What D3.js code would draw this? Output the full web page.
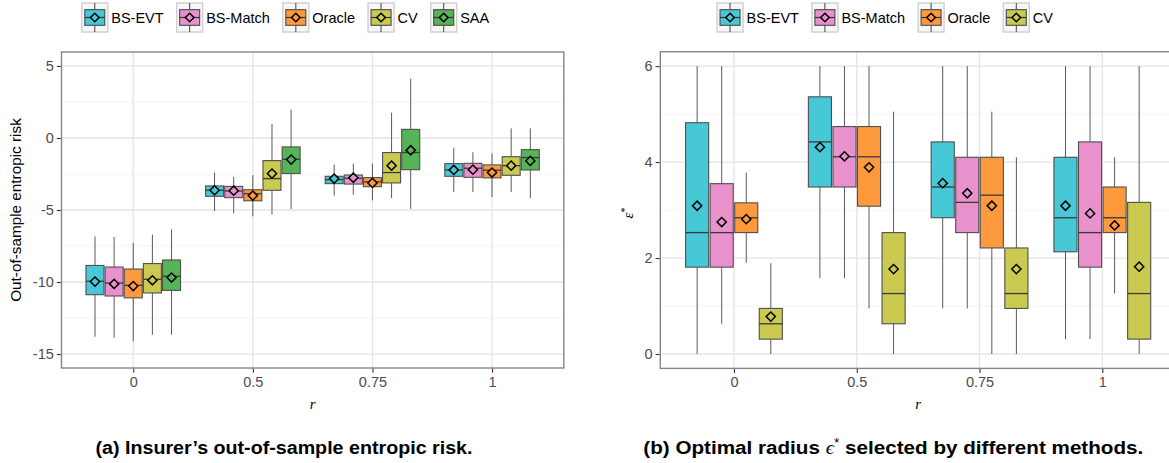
<!DOCTYPE html>
<html>
<head>
<meta charset="utf-8">
<script src="https://cdn.jsdelivr.net/npm/d3@7"></script>
<style>
  html, body { margin: 0; padding: 0; background: #fff; }
  svg { display: block; }
  text { font-family: "Liberation Sans", Arial, Helvetica, sans-serif; }
</style>
</head>
<body>
<svg id="chart" width="1169" height="463"></svg>
<script>
// ---- data -------------------------------------------------------------
const rLevels = ["0", "0.5", "0.75", "1"];

// (a) out-of-sample entropic risk; rows = method, columns = r level
const riskMethods = ["BS-EVT", "BS-Match", "Oracle", "CV", "SAA"];
const riskLower = [
  [-13.80, -5.07, -4.00, -3.75],
  [-13.87, -5.23, -3.94, -3.75],
  [-14.12, -5.44, -4.33, -4.10],
  [-13.66, -5.32, -4.17, -3.75],
  [-13.66, -4.93, -4.93, -4.19]
];
const riskQ1 = [
  [-10.88, -4.05, -3.17, -2.66],
  [-10.97, -4.14, -3.20, -2.73],
  [-11.10, -4.36, -3.38, -2.77],
  [-10.76, -3.63, -3.12, -2.59],
  [-10.58, -2.47, -2.20, -2.22]
];
const riskMedian = [
  [-9.95, -3.63, -2.89, -2.22],
  [-10.07, -3.68, -2.80, -2.10],
  [-10.23, -3.87, -3.05, -2.24],
  [-9.81, -2.82, -2.40, -1.92],
  [-9.60, -1.48, -1.01, -1.36]
];
const riskQ3 = [
  [-8.85, -3.33, -2.66, -1.78],
  [-8.96, -3.36, -2.57, -1.76],
  [-9.10, -3.59, -2.75, -1.87],
  [-8.72, -1.57, -1.01, -1.30],
  [-8.47, -0.62, 0.60, -0.81]
];
const riskUpper = [
  [-6.83, -2.40, -1.85, -0.67],
  [-6.87, -2.70, -1.78, -0.99],
  [-7.29, -2.58, -1.78, -1.08],
  [-6.71, 0.97, 1.76, 0.67],
  [-6.34, 1.97, 4.12, 0.67]
];
const riskMean = [
  [-9.97, -3.63, -2.82, -2.22],
  [-10.13, -3.66, -2.76, -2.20],
  [-10.28, -4.00, -3.12, -2.40],
  [-9.88, -2.47, -1.92, -1.92],
  [-9.69, -1.50, -0.85, -1.59]
];
const riskTicks = [-15, -10, -5, 0, 5];
const riskMinorTicks = [-12.5, -7.5, -2.5, 2.5];

// (b) selected radius eps*; rows = method, columns = r level
const radiusMethods = ["BS-EVT", "BS-Match", "Oracle", "CV"];
const radiusLower = [
  [0.00, 1.58, 0.95, 0.31],
  [0.63, 1.58, 0.95, 0.31],
  [1.90, 0.95, 0.00, 1.26],
  [0.00, 0.00, 0.00, 0.00]
];
const radiusQ1 = [
  [1.81, 3.48, 2.84, 2.13],
  [1.81, 3.48, 2.53, 1.81],
  [2.53, 3.08, 2.21, 2.53],
  [0.31, 0.63, 0.95, 0.31]
];
const radiusMedian = [
  [2.53, 4.42, 3.48, 2.84],
  [2.53, 4.11, 3.16, 2.53],
  [2.84, 4.11, 3.31, 2.84],
  [0.63, 1.26, 1.26, 1.26]
];
const radiusQ3 = [
  [4.82, 5.36, 4.42, 4.10],
  [3.55, 4.74, 4.10, 4.42],
  [3.15, 4.74, 4.10, 3.48],
  [0.95, 2.53, 2.21, 3.16]
];
const radiusUpper = [
  [6.00, 6.00, 6.00, 6.00],
  [6.00, 6.00, 6.00, 6.00],
  [3.78, 6.00, 5.05, 4.10],
  [1.89, 5.05, 4.10, 6.00]
];
const radiusMean = [
  [3.09, 4.31, 3.56, 3.09],
  [2.75, 4.12, 3.35, 2.93],
  [2.81, 3.89, 3.09, 2.68],
  [0.78, 1.77, 1.77, 1.82]
];
const radiusTicks = [0, 2, 4, 6];
const radiusMinorTicks = [1, 3, 5];

// ---- styling ----------------------------------------------------------
const palette = {
  "BS-EVT": "#46c8d6",
  "BS-Match": "#e891cc",
  "Oracle": "#ff993e",
  "CV": "#c9ca4f",
  "SAA": "#57b357"
};

const svg = d3.select("#chart");

function diamondPath(r) {
  return `M0,${-r}L${r},0L0,${r}L${-r},0Z`;
}

function drawPanel(cfg) {
  const g = svg.append("g");
  const x = d3.scalePoint().domain(rLevels).range([cfg.left, cfg.right]).padding(0.6);
  const y = d3.scaleLinear().domain(cfg.yDomain).range([cfg.bottom, cfg.top]);
  const dodge = d3.scaleBand().domain(cfg.methods)
    .range([-0.4 * x.step(), 0.4 * x.step()]).paddingInner(0);
  const boxW = dodge.bandwidth() * 0.94;

  // panel background and grid
  g.append("rect").attr("x", cfg.left).attr("y", cfg.top)
    .attr("width", cfg.right - cfg.left).attr("height", cfg.bottom - cfg.top)
    .attr("fill", "#fff");
  g.selectAll(".minor").data(cfg.minorTicks).join("line")
    .attr("x1", cfg.left).attr("x2", cfg.right)
    .attr("y1", d => y(d)).attr("y2", d => y(d))
    .attr("stroke", "#f2f2f2").attr("stroke-width", 0.7);
  g.selectAll(".majorY").data(cfg.ticks).join("line")
    .attr("x1", cfg.left).attr("x2", cfg.right)
    .attr("y1", d => y(d)).attr("y2", d => y(d))
    .attr("stroke", "#e4e4e4").attr("stroke-width", 1.3);
  g.selectAll(".majorX").data(rLevels).join("line")
    .attr("x1", d => x(d)).attr("x2", d => x(d))
    .attr("y1", cfg.top).attr("y2", cfg.bottom)
    .attr("stroke", "#e4e4e4").attr("stroke-width", 1.3);

  // boxes
  const rows = [];
  cfg.methods.forEach((m, i) => {
    rLevels.forEach((r, j) => {
      rows.push({
        method: m, r: r,
        lo: cfg.stats.lower[i][j], q1: cfg.stats.q1[i][j],
        med: cfg.stats.median[i][j], q3: cfg.stats.q3[i][j],
        hi: cfg.stats.upper[i][j], mean: cfg.stats.mean[i][j]
      });
    });
  });
  const cx = d => x(d.r) + dodge(d.method) + dodge.bandwidth() / 2;
  const boxes = g.selectAll(".box").data(rows).join("g");
  boxes.append("line")
    .attr("x1", cx).attr("x2", cx)
    .attr("y1", d => y(d.hi)).attr("y2", d => y(d.q3))
    .attr("stroke", "#5a5a5a").attr("stroke-width", 1);
  boxes.append("line")
    .attr("x1", cx).attr("x2", cx)
    .attr("y1", d => y(d.q1)).attr("y2", d => y(d.lo))
    .attr("stroke", "#5a5a5a").attr("stroke-width", 1);
  boxes.append("rect")
    .attr("x", d => cx(d) - boxW / 2).attr("width", boxW)
    .attr("y", d => y(d.q3)).attr("height", d => y(d.q1) - y(d.q3))
    .attr("fill", d => palette[d.method])
    .attr("stroke", "#4f4f4f").attr("stroke-width", 1.1);
  boxes.append("line")
    .attr("x1", d => cx(d) - boxW / 2).attr("x2", d => cx(d) + boxW / 2)
    .attr("y1", d => y(d.med)).attr("y2", d => y(d.med))
    .attr("stroke", "#3a3a3a").attr("stroke-width", 1.3);
  boxes.append("path")
    .attr("d", diamondPath(4.6))
    .attr("transform", d => `translate(${cx(d)},${y(d.mean)})`)
    .attr("fill", d => palette[d.method])
    .attr("stroke", "#000").attr("stroke-width", 1.5);

  // panel border
  g.append("rect").attr("x", cfg.left).attr("y", cfg.top)
    .attr("width", cfg.right - cfg.left).attr("height", cfg.bottom - cfg.top)
    .attr("fill", "none").attr("stroke", "#858585").attr("stroke-width", 1.4);

  // axes
  const ya = g.append("g").attr("transform", `translate(${cfg.left - 0.7},0)`)
    .call(d3.axisLeft(y).tickValues(cfg.ticks).tickFormat(d => String(d))
      .tickSize(4).tickPadding(3));
  const xa = g.append("g").attr("transform", `translate(0,${cfg.bottom + 0.7})`)
    .call(d3.axisBottom(x).tickSize(4).tickPadding(4));
  [ya, xa].forEach(a => {
    a.select(".domain").remove();
    a.selectAll(".tick line").attr("stroke", "#333").attr("stroke-width", 1.1);
    a.selectAll(".tick text").attr("fill", "#4d4d4d")
      .style("font-size", "14.5px");
  });

  // axis titles
  g.append("text").attr("x", (cfg.left + cfg.right) / 2).attr("y", 409)
    .attr("text-anchor", "middle")
    .style("font-family", "'Liberation Serif', 'DejaVu Serif', serif")
    .style("font-style", "italic").style("font-size", "15px")
    .text("r");
  cfg.yTitle(g, (cfg.top + cfg.bottom) / 2);

  // legend
  const lg = svg.append("g");
  const keyW = 26, keyH = 29, keyTop = 3;
  const items = cfg.methods.map(m => {
    const it = lg.append("g");
    const t = it.append("text").attr("x", keyW + 3.5).attr("y", keyTop + keyH / 2 + 5.2)
      .style("font-size", "14.5px").attr("fill", "#000").text(m);
    return { g: it, m: m, w: keyW + 3.5 + t.node().getComputedTextLength() };
  });
  const gap = 13;
  const total = d3.sum(items, d => d.w) + gap * (items.length - 1);
  let pos = cfg.legendCenter - total / 2;
  items.forEach(it => {
    it.g.attr("transform", `translate(${pos},0)`);
    const k = it.g.insert("g", "text");
    const mid = keyTop + keyH / 2;
    k.append("rect").attr("x", 0).attr("y", keyTop).attr("width", keyW).attr("height", keyH)
      .attr("fill", "#f7f7f7").attr("stroke", "#cfcfcf").attr("stroke-width", 1.4);
    k.append("line").attr("x1", keyW / 2).attr("x2", keyW / 2)
      .attr("y1", keyTop).attr("y2", keyTop + keyH)
      .attr("stroke", "#444").attr("stroke-width", 1);
    k.append("rect").attr("x", 3).attr("y", mid - 7.8).attr("width", keyW - 6).attr("height", 15.6)
      .attr("fill", palette[it.m]).attr("stroke", "#4a4a4a").attr("stroke-width", 1.1);
    k.append("line").attr("x1", 3).attr("x2", keyW - 3).attr("y1", mid).attr("y2", mid)
      .attr("stroke", "#333").attr("stroke-width", 1.2);
    k.append("path").attr("d", diamondPath(4.3))
      .attr("transform", `translate(${keyW / 2},${mid})`)
      .attr("fill", palette[it.m]).attr("stroke", "#000").attr("stroke-width", 1.5);
    pos += it.w + gap;
  });
}

// (a) entropic risk
drawPanel({
  left: 61.5, right: 563.8, top: 52, bottom: 368,
  yDomain: [-15.97, 5.97], ticks: riskTicks, minorTicks: riskMinorTicks,
  methods: riskMethods,
  stats: { lower: riskLower, q1: riskQ1, median: riskMedian, q3: riskQ3, upper: riskUpper, mean: riskMean },
  legendCenter: 285.5,
  yTitle: (g, cy) => {
    g.append("text").attr("transform", `translate(20.5,${cy}) rotate(-90)`)
      .attr("text-anchor", "middle").style("font-size", "15.3px").attr("fill", "#000")
      .text("Out-of-sample entropic risk");
  }
});

// (b) selected radius
drawPanel({
  left: 660.3, right: 1176, top: 51.7, bottom: 368.4,
  yDomain: [-0.3, 6.3], ticks: radiusTicks, minorTicks: radiusMinorTicks,
  methods: radiusMethods,
  stats: { lower: radiusLower, q1: radiusQ1, median: radiusMedian, q3: radiusQ3, upper: radiusUpper, mean: radiusMean },
  legendCenter: 885,
  yTitle: (g, cy) => {
    const t = g.append("text").attr("transform", `translate(633,${cy + 3}) rotate(-90)`)
      .attr("text-anchor", "middle")
      .style("font-family", "'Liberation Serif', 'DejaVu Serif', serif")
      .style("font-size", "15px").attr("fill", "#000");
    t.append("tspan").style("font-style", "italic").text("\u03b5");
    t.append("tspan").attr("dy", -5).style("font-size", "10px").text("*");
  }
});

// captions
const capFont = "'Liberation Sans Narrow', 'Liberation Sans', Arial, sans-serif";
const capA = svg.append("text").attr("x", 95.5).attr("y", 454)
  .style("font-family", capFont)
  .style("font-weight", "bold").style("font-size", "18px")
  .attr("textLength", 377).attr("lengthAdjust", "spacingAndGlyphs")
  .text("(a) Insurer\u2019s out-of-sample entropic risk.");
const capB = svg.append("text").attr("x", 643.3).attr("y", 454)
  .style("font-family", capFont)
  .style("font-weight", "bold").style("font-size", "18px")
  .attr("textLength", 500).attr("lengthAdjust", "spacingAndGlyphs");
capB.append("tspan").text("(b) Optimal radius ");
capB.append("tspan").style("font-style", "italic").style("font-weight", "normal")
  .style("font-family", "'Liberation Serif', 'DejaVu Serif', serif").text("\u03f5");
capB.append("tspan").attr("dy", -7).style("font-size", "12px").style("font-weight", "normal").text("*");
capB.append("tspan").attr("dy", 7).text(" selected by different methods.");
</script>
</body>
</html>
